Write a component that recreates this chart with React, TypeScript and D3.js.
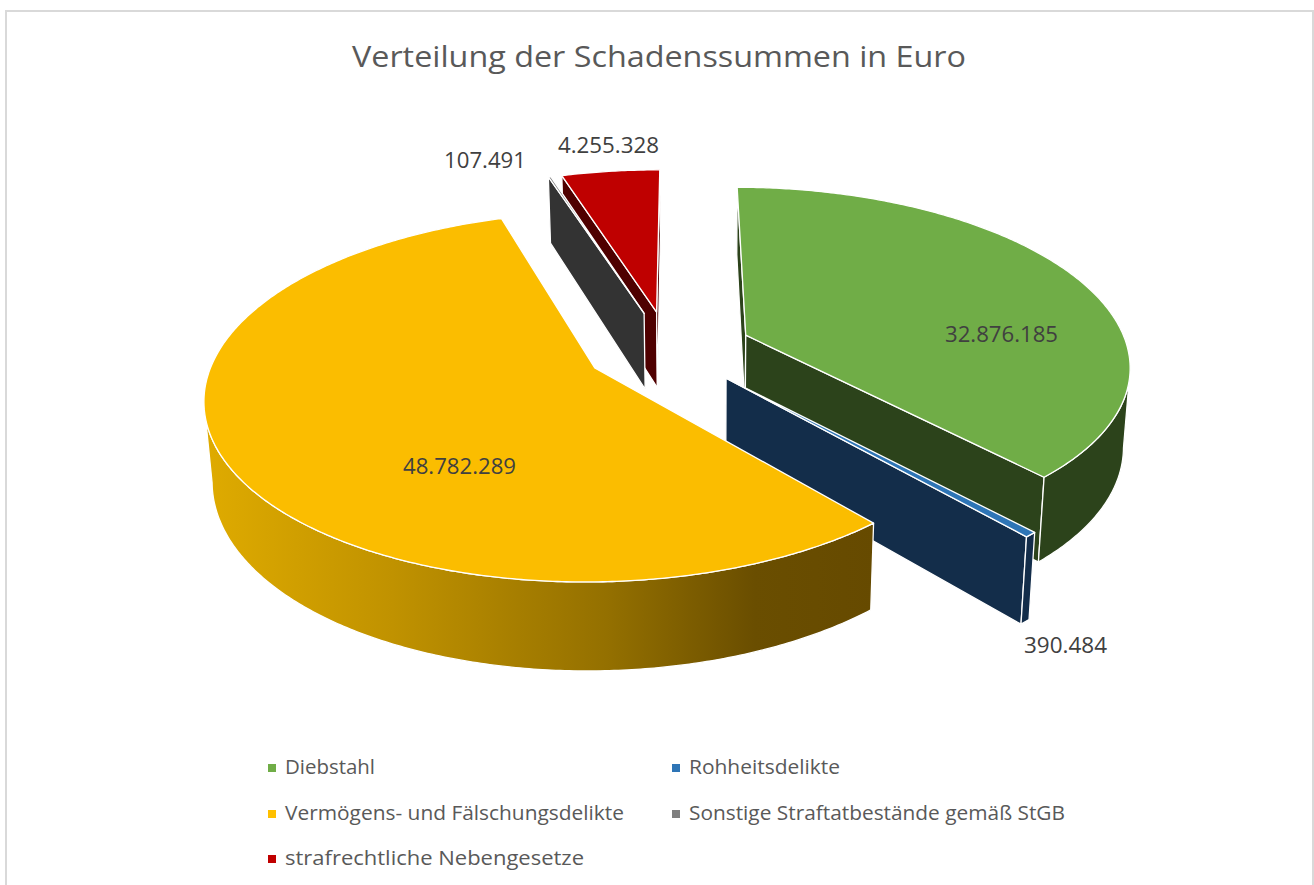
import React from "react";
import * as d3 from "d3";

const categories = ["Diebstahl", "Rohheitsdelikte", "Vermögens- und Fälschungsdelikte", "Sonstige Straftatbestände gemäß StGB", "strafrechtliche Nebengesetze"];
const values = [32876185, 390484, 48782289, 107491, 4255328];
const valueLabels = ["32.876.185", "390.484", "48.782.289", "107.491", "4.255.328"];
const topColors = ["#70AD47", "#2E75B6", "#FBBD00", "#7F7F7F", "#BF0000"];
const legendColors = ["#70AD47", "#2E75B6", "#FFC000", "#7F7F7F", "#C00000"];
const wallColors = ["#2C431B", "#132D4A", "url(#yellowWall)", "#333333", "#4F0000"];
const cutColors = ["#2C431B", "#132D4A", "#6A4E00", "#333333", "#4F0000"];
const drawOrder = [4, 3, 0, 1, 2];
const labelBoxes = [
  { x: 945, w: 113, y: 334 },
  { x: 1024, w: 83, y: 645 },
  { x: 403, w: 113, y: 466 },
  { x: 444, w: 82, y: 160 },
  { x: 558, w: 101, y: 145 },
];
const legendBoxes = [
  { x: 285, w: 90, y: 767 },
  { x: 689, w: 151, y: 767 },
  { x: 285, w: 339, y: 813 },
  { x: 689, w: 376, y: 813 },
  { x: 285, w: 299, y: 858 },
];

const FONT = "'Open Sans', sans-serif";
const X0 = 595, Y0 = 368, R = 386, S = 180.4, K = 0.157;
const SHEAR = -0.012;
const CENTER = { u: 0.194, v: -0.103 };
const EXPLODE = 0.22;
const DEPTH_BASE = 79, DEPTH_SLOPE = 10, CONVERGE = 0.0002, CONV_X = 710;

type P = [number, number];
const topPt = (u: number, v: number): P => {
  const w = 1 - K * v;
  const x = X0 + (R * u) / w;
  return [x, Y0 + (S * v) / w + SHEAR * (x - X0)];
};
const botPt = (u: number, v: number): P => {
  const [x, y] = topPt(u, v);
  const d = DEPTH_BASE + DEPTH_SLOPE * v;
  return [x - (x - CONV_X) * CONVERGE * d, y + d];
};
const line = d3.line<P>().curve(d3.curveLinear);
const closed = (pts: P[]) => line(pts) + "Z";

const pie = d3.pie<number>().sort(null).startAngle((2 * Math.PI) / 180).endAngle((2 * Math.PI) / 180 + 2 * Math.PI);
const arcs = pie(values);

// A cut wall shows only when the slice's own top lies on the far side of its edge.
const cutFaces = (c: P, edge: P, middle: P) => {
  const ex = edge[0] - c[0];
  const ey = edge[1] - c[1];
  const inner = ex * (middle[1] - c[1]) - ey * (middle[0] - c[0]);
  return inner * ex < 0;
};

const slices = arcs.map((a) => {
  const mid = (a.startAngle + a.endAngle) / 2;
  const cu = CENTER.u + EXPLODE * Math.sin(mid);
  const cv = CENTER.v - EXPLODE * Math.cos(mid);
  const n = Math.max(2, Math.ceil((a.endAngle - a.startAngle) / 0.01));
  const rim: P[] = d3.range(n + 1).map((i) => {
    const t = a.startAngle + ((a.endAngle - a.startAngle) * i) / n;
    return [cu + Math.sin(t), cv - Math.cos(t)];
  });
  const first = rim[0];
  const last = rim[rim.length - 1];
  const middle = rim[Math.floor(n / 2)];
  const c = topPt(cu, cv);
  const top = closed([c, ...rim.map(([u, v]) => topPt(u, v))]);
  // The outer wall is drawn only along the part of the rim that faces the viewer.
  const screenX = rim.map((p) => topPt(p[0], p[1])[0]);
  const front = rim.filter((_, i) =>
    (i < n && screenX[i + 1] < screenX[i]) || (i > 0 && screenX[i - 1] > screenX[i])
  );
  const outer = front.length > 1
    ? closed([...front.map(([u, v]) => topPt(u, v)), ...front.slice().reverse().map(([u, v]) => botPt(u, v))])
    : null;
  const quad = (p: P) => closed([c, topPt(p[0], p[1]), botPt(p[0], p[1]), botPt(cu, cv)]);
  const mTop = topPt(middle[0], middle[1]);
  const cuts = [first, last].filter((p) => cutFaces(c, topPt(p[0], p[1]), mTop)).map(quad);
  return { top, outer, cuts };
});

export default function App() {
  const titleColor = "#595959";
  return (
    <svg width={1314} height={885} style={{ position: "absolute", left: 0, top: 0, background: "#fff" }}>
      <defs>
        <linearGradient id="yellowWall" gradientUnits="userSpaceOnUse" x1={205} x2={875} y1={0} y2={0}>
          <stop offset="0" stopColor="#DFAB00" />
          <stop offset="0.28" stopColor="#C09200" />
          <stop offset="0.6" stopColor="#947000" />
          <stop offset="0.82" stopColor="#6A4E00" />
          <stop offset="1" stopColor="#664A00" />
        </linearGradient>
      </defs>
      <path d="M6,885V11H1313V885" fill="none" stroke="#D9D9D9" strokeWidth={2} />
      <text x={352} y={67} fontFamily={FONT} fontSize={30} fill={titleColor} textLength={614} lengthAdjust="spacingAndGlyphs">
        Verteilung der Schadenssummen in Euro
      </text>
      {drawOrder.map((i) => (
        <g key={categories[i]} stroke="#fff" strokeWidth={1.3} strokeLinejoin="round">
          {slices[i].cuts.map((d, k) => (
            <path key={k} d={d} fill={cutColors[i]} />
          ))}
          {slices[i].outer && <path d={slices[i].outer as string} fill={wallColors[i]} />}
          <path d={slices[i].top} fill={topColors[i]} />
        </g>
      ))}
      {valueLabels.map((t, i) => (
        <text key={t} x={labelBoxes[i].x} y={labelBoxes[i].y} dy="0.36em" fontFamily={FONT} fontSize={21} fill="#404040" textLength={labelBoxes[i].w} lengthAdjust="spacingAndGlyphs">
          {t}
        </text>
      ))}
      {categories.map((c, i) => (
        <g key={c}>
          <rect x={legendBoxes[i].x - 17} y={legendBoxes[i].y - 3} width={8} height={8} fill={legendColors[i]} />
          <text x={legendBoxes[i].x} y={legendBoxes[i].y} dy="0.36em" fontFamily={FONT} fontSize={20} fill={titleColor} textLength={legendBoxes[i].w} lengthAdjust="spacingAndGlyphs">
            {c}
          </text>
        </g>
      ))}
    </svg>
  );
}
